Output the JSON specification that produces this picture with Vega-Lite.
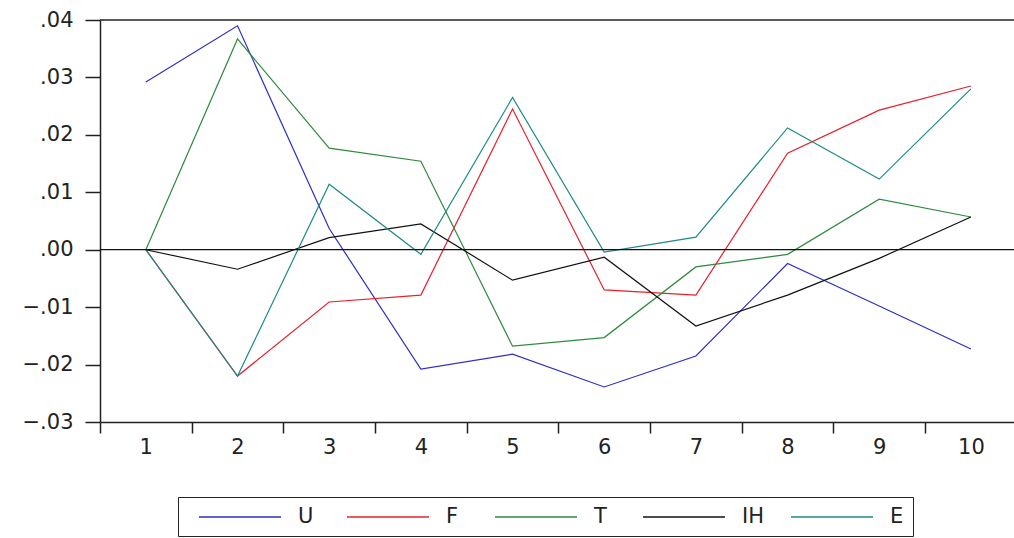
{
  "$schema": "https://vega.github.io/schema/vega-lite/v6.json",
  "width": 914,
  "height": 402,
  "autosize": {"type": "none"},
  "padding": {"left": 100, "top": 20, "right": 0, "bottom": 116},
  "background": "white",
  "config": {
    "view": {"stroke": null},
    "font": "DejaVu Sans",
    "axis": {"grid": false, "domainColor": "#222", "tickColor": "#222", "labelColor": "#222", "labelFont": "DejaVu Sans", "labelFontSize": 21, "domainWidth": 1.5, "tickWidth": 1.5}
  },
  "layer": [
    {
      "data": {"values": [
        {"h": 1, "s": "U", "v": 0.0292}, {"h": 2, "s": "U", "v": 0.0390}, {"h": 3, "s": "U", "v": 0.0037}, {"h": 4, "s": "U", "v": -0.0208}, {"h": 5, "s": "U", "v": -0.0182},
        {"h": 6, "s": "U", "v": -0.0239}, {"h": 7, "s": "U", "v": -0.0185}, {"h": 8, "s": "U", "v": -0.0024}, {"h": 9, "s": "U", "v": -0.0098}, {"h": 10, "s": "U", "v": -0.0173},
        {"h": 1, "s": "F", "v": 0}, {"h": 2, "s": "F", "v": -0.0220}, {"h": 3, "s": "F", "v": -0.0091}, {"h": 4, "s": "F", "v": -0.0079}, {"h": 5, "s": "F", "v": 0.0245},
        {"h": 6, "s": "F", "v": -0.0070}, {"h": 7, "s": "F", "v": -0.0079}, {"h": 8, "s": "F", "v": 0.0168}, {"h": 9, "s": "F", "v": 0.0243}, {"h": 10, "s": "F", "v": 0.0285},
        {"h": 1, "s": "T", "v": 0}, {"h": 2, "s": "T", "v": 0.0367}, {"h": 3, "s": "T", "v": 0.0177}, {"h": 4, "s": "T", "v": 0.0154}, {"h": 5, "s": "T", "v": -0.0168},
        {"h": 6, "s": "T", "v": -0.0153}, {"h": 7, "s": "T", "v": -0.0030}, {"h": 8, "s": "T", "v": -0.0008}, {"h": 9, "s": "T", "v": 0.0088}, {"h": 10, "s": "T", "v": 0.0057},
        {"h": 1, "s": "IH", "v": 0}, {"h": 2, "s": "IH", "v": -0.0034}, {"h": 3, "s": "IH", "v": 0.0021}, {"h": 4, "s": "IH", "v": 0.0045}, {"h": 5, "s": "IH", "v": -0.0053},
        {"h": 6, "s": "IH", "v": -0.0013}, {"h": 7, "s": "IH", "v": -0.0133}, {"h": 8, "s": "IH", "v": -0.0079}, {"h": 9, "s": "IH", "v": -0.0015}, {"h": 10, "s": "IH", "v": 0.0057},
        {"h": 1, "s": "E", "v": 0}, {"h": 2, "s": "E", "v": -0.0220}, {"h": 3, "s": "E", "v": 0.0114}, {"h": 4, "s": "E", "v": -0.0008}, {"h": 5, "s": "E", "v": 0.0265},
        {"h": 6, "s": "E", "v": -0.0004}, {"h": 7, "s": "E", "v": 0.0022}, {"h": 8, "s": "E", "v": 0.0212}, {"h": 9, "s": "E", "v": 0.0123}, {"h": 10, "s": "E", "v": 0.0280}
      ]},
      "mark": {"type": "line", "strokeWidth": 1.2, "clip": true},
      "encoding": {
        "x": {
          "field": "h", "type": "quantitative",
          "scale": {"domain": [0.5, 10.47], "nice": false, "zero": false},
          "axis": {
            "title": null,
            "values": [0.5, 1.5, 2.5, 3.5, 4.5, 5.5, 6.5, 7.5, 8.5, 9.5],
            "labelExpr": "format(datum.value + 0.5, 'd')",
            "labelOffset": 45.8,
            "tickSize": 11,
            "labelPadding": 3,
            "labelFlush": false,
            "labelOverlap": false
          }
        },
        "y": {
          "field": "v", "type": "quantitative",
          "scale": {"domain": [-0.03, 0.04], "nice": false, "zero": false},
          "axis": {
            "title": null,
            "values": [-0.03, -0.02, -0.01, 0, 0.01, 0.02, 0.03, 0.04],
            "labelExpr": "replace(format(datum.value, '.2f'), '0.', '.')",
            "tickSize": 15,
            "labelPadding": 12,
            "labelFlush": false,
            "labelOverlap": false
          }
        },
        "color": {
          "field": "s", "type": "nominal",
          "scale": {"domain": ["U", "F", "T", "IH", "E"], "range": ["#2e2ec8", "#e8202a", "#2e8b3e", "#111111", "#1e8a8a"]},
          "legend": {
            "title": null,
            "orient": "none",
            "direction": "horizontal",
            "legendX": 78,
            "legendY": 477,
            "symbolType": "M-4.1,0H4.1",
            "symbolSize": 400,
            "symbolStrokeWidth": 1.5,
            "symbolOffset": 42,
            "labelFont": "DejaVu Sans",
            "labelFontSize": 21,
            "labelColor": "#222",
            "labelOffset": 47,
            "columnPadding": 15,
            "gridAlign": "all",
            "padding": 9,
            "strokeColor": "#222",
            "fillColor": "white"
          }
        }
      }
    },
    {
      "data": {"values": [{}]},
      "mark": {"type": "rule", "color": "#111", "strokeWidth": 1.2},
      "encoding": {"y": {"datum": 0}}
    },
    {
      "data": {"values": [{}]},
      "mark": {"type": "rule", "color": "#222", "strokeWidth": 1.5},
      "encoding": {"y": {"datum": 0.04}}
    }
  ]
}
